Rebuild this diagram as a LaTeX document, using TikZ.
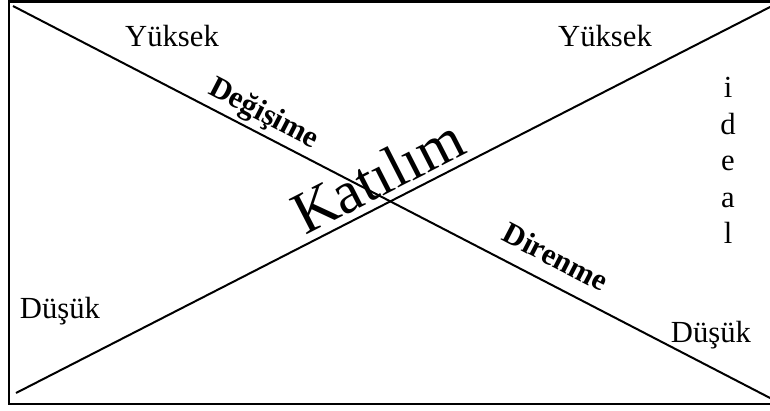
\documentclass[tikz,border=0pt]{standalone}
\usepackage{fontspec}
\setmainfont{Liberation Serif}
\begin{document}
\begin{tikzpicture}[x=0.75pt,y=-0.75pt,
  frame/.style={draw=black,line width=2.2pt},
  diag/.style={draw=black,line width=1.5pt},
  lbl/.style={inner sep=0pt,font=\fontsize{23}{27.4}\selectfont},
  blbl/.style={inner sep=0pt,font=\fontsize{23}{27.4}\selectfont\bfseries},
  big/.style={inner sep=0pt,font=\fontsize{45}{54}\selectfont}]
\useasboundingbox (0,0) rectangle (770,410);
\draw[frame] (9,1.5) rectangle (776,404);
\coordinate (a1) at (13,6);
\coordinate (a2) at (772,399);
\coordinate (b1) at (16,393);
\coordinate (b2) at (772,6);
\draw[diag] (a1) -- (a2);
\draw[diag] (b1) -- (b2);
\node[lbl,anchor=base] (yl) at (172,47) {Yüksek};
\node[lbl,anchor=base] (yr) at (605,47) {Yüksek};
\node[lbl,anchor=base] (dl) at (60,318) {Düşük};
\node[lbl,anchor=base] (dr) at (711,342) {Düşük};
\node[lbl,anchor=north,align=center] (ideal) at (728,77) {i\\d\\e\\a\\l};
\node[big,anchor=base,rotate=27.1] (kat) at (387,194) {Katılım};
\node[blbl,anchor=base,rotate=-27.4] (deg) at (260,121) {Değişime};
\node[blbl,anchor=base,rotate=-27.4] (dir) at (551,266) {Direnme};
\end{tikzpicture}
\end{document}
